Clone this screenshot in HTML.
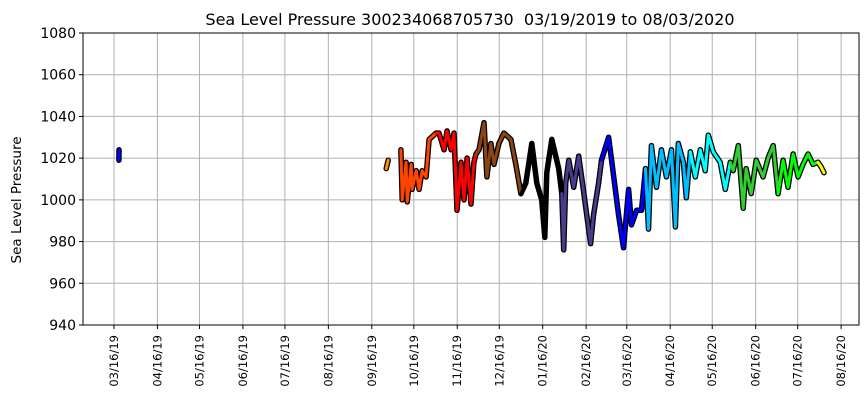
<!DOCTYPE html>
<html><head><meta charset="utf-8"><style>
html,body{margin:0;padding:0;background:#fff;}
svg{display:block;font-family:"DejaVu Sans","Liberation Sans",sans-serif;}
</style></head><body>
<svg id="chart" width="867" height="408" viewBox="0 0 867 408" xmlns="http://www.w3.org/2000/svg">
<text x="470" y="25" font-size="16" text-anchor="middle" fill="#000">Sea Level Pressure 300234068705730&#160; 03/19/2019 to 08/03/2020</text>
<text transform="translate(21,200) rotate(-90)" font-size="13.5" text-anchor="middle" fill="#000">Sea Level Pressure</text>
<g id="grid"></g>
<g id="yticks"></g>
<g id="xticks"></g>
<g id="series"></g>
<rect x="83" y="33" width="776" height="292" fill="none" stroke="#000" stroke-width="1"/>
</svg>
<script>
// Data: day offsets from 03/16/2019 and pressure values
const yTicks = [940, 960, 980, 1000, 1020, 1040, 1060, 1080];
const xTickDays = [0, 31, 61, 92, 122, 153, 184, 214, 245, 275, 306, 337, 366, 397, 427, 458, 488, 519];
const xTickLabels = ["03/16/19","04/16/19","05/16/19","06/16/19","07/16/19","08/16/19","09/16/19","10/16/19","11/16/19","12/16/19","01/16/20","02/16/20","03/16/20","04/16/20","05/16/20","06/16/20","07/16/20","08/16/20"];

const seg0Days = [3.5, 3.6];
const seg0Vals = [1019, 1024];
const seg1Days = [194.3, 195.7];
const seg1Vals = [1015, 1019];
const seg2Days = [204.8, 205.7, 208.5, 209.3, 212.1, 212.8, 215.7, 217.8, 219.9, 222.8, 224.9, 229.9];
const seg2Vals = [1024, 1000, 1018, 999, 1017, 1005, 1014, 1005, 1014, 1011, 1029, 1032];
const seg3Days = [229.9, 232, 235.6, 237.7, 240.6, 242.7, 244.8, 247.7, 249.8, 252, 254.8, 256.9, 258.4];
const seg3Vals = [1032, 1032, 1024, 1033, 1024, 1032, 995, 1018, 1000, 1020, 998, 1018, 1022];
const seg4Days = [258.4, 260.5, 264.1, 266.2, 269, 271.2, 274.7, 278.3, 283.3, 286.8, 290.4];
const seg4Vals = [1022, 1024, 1037, 1011, 1027, 1017, 1027, 1032, 1029, 1017, 1003];
const seg5Days = [290.4, 293.9, 298.2, 301.8, 305.3, 307.5, 308.9, 312.5, 317.4, 319.6];
const seg5Vals = [1003, 1008, 1027, 1008, 1000, 982, 1013, 1029, 1015, 1003];
const seg6Days = [319.6, 321, 322.4, 324.6, 328.1, 331.7, 335.2, 340.2, 342.3, 345.9, 348];
const seg6Vals = [1003, 976, 1008, 1019, 1006, 1021, 1004, 979, 993, 1008, 1019];
const seg7Days = [348, 353, 355.2, 360.1, 363.7, 367.3, 369.4, 373, 376.5, 379.4];
const seg7Vals = [1019, 1030, 1019, 993, 977, 1005, 988, 995, 995, 1015];
const seg8Days = [379.4, 381.5, 383.6, 387.2, 390.7, 394.3, 397.9, 400.7, 402.8, 406.4, 408.5, 411.4];
const seg8Vals = [1015, 986, 1026, 1006, 1024, 1011, 1024, 987, 1027, 1018, 1001, 1023];
const seg9Days = [411.4, 414.9, 418.5, 422, 424.2, 427.8, 432.7, 436.3, 439.9];
const seg9Vals = [1023, 1011, 1024, 1014, 1031, 1023, 1018, 1005, 1018];
const seg10Days = [439.9, 442, 445.6, 449.1, 451.2, 454.8, 458.4, 463.3, 466.9, 470.5, 474];
const seg10Vals = [1018, 1014, 1026, 996, 1015, 1003, 1019, 1011, 1020, 1026, 1003];
const seg11Days = [474, 477.6, 481.1, 484.7, 488.3, 491.8, 495.4, 498.9, 502.5];
const seg11Vals = [1003, 1019, 1006, 1022, 1011, 1017, 1022, 1017, 1018];
const seg12Days = [502.5, 504.6, 506.8];
const seg12Vals = [1018, 1016, 1013];
const segColors = ["#0000ff","#ff8c00","#ff4500","#ff0000","#8b4513","#000000","#483d8b","#0000ff","#00bfff","#00ffff","#32cd32","#00ff00","#ffff00"];
const segDays = [seg0Days,seg1Days,seg2Days,seg3Days,seg4Days,seg5Days,seg6Days,seg7Days,seg8Days,seg9Days,seg10Days,seg11Days,seg12Days];
const segVals = [seg0Vals,seg1Vals,seg2Vals,seg3Vals,seg4Vals,seg5Vals,seg6Vals,seg7Vals,seg8Vals,seg9Vals,seg10Vals,seg11Vals,seg12Vals];

const NS = "http://www.w3.org/2000/svg";
const X0 = 114, PXD = 1.401, YT = 33, YB = 325, VMIN = 940, VMAX = 1080;
function xScale(d){ return X0 + d * PXD; }
function yScale(v){ return YB - (v - VMIN) / (VMAX - VMIN) * (YB - YT); }
function mk(tag, attrs){ const e = document.createElementNS(NS, tag); for (const k in attrs) e.setAttribute(k, attrs[k]); return e; }

const grid = document.getElementById('grid');
const yg = document.getElementById('yticks');
const xg = document.getElementById('xticks');
const sg = document.getElementById('series');

yTicks.forEach(v => {
  const y = yScale(v);
  const gl = mk('line', {x1:83, x2:859, y1:y, y2:y, stroke:'#b0b0b0', 'stroke-width':1});
  
  
  grid.appendChild(gl);
  const tk = mk('line', {x1:79, x2:83, y1:y, y2:y, stroke:'#000'});
  
  
  yg.appendChild(tk);
  const t = mk('text', {x:76, y:y+5, 'font-size':14, 'text-anchor':'end', fill:'#000'});
  t.textContent = v;
  
  
  yg.appendChild(t);
});

xTickDays.forEach((d, i) => {
  const x = xScale(d);
  const gl = mk('line', {x1:x, x2:x, y1:33, y2:325, stroke:'#b0b0b0', 'stroke-width':1});
  
  
  grid.appendChild(gl);
  const tk = mk('line', {x1:x, x2:x, y1:325, y2:329, stroke:'#000'});
  
  
  xg.appendChild(tk);
  const t = mk('text', {transform:'translate(' + (x+4) + ',335) rotate(-90)', 'font-size':11.5, 'text-anchor':'end', fill:'#000'});
  t.textContent = xTickLabels[i];
  
  
  xg.appendChild(t);
});

segDays.forEach((days, i) => {
  const pts = days.map((d, j) => xScale(d).toFixed(1) + ',' + yScale(segVals[i][j]).toFixed(1)).join(' ');
  const outline = mk('polyline', {points:pts, fill:'none', stroke:'#000', 'stroke-width':5.5, 'stroke-linejoin':'round', 'stroke-linecap':'round'});
  
  
  sg.appendChild(outline);
});
segDays.forEach((days, i) => {
  const pts = days.map((d, j) => xScale(d).toFixed(1) + ',' + yScale(segVals[i][j]).toFixed(1)).join(' ');
  const line = mk('polyline', {points:pts, fill:'none', stroke:segColors[i], 'stroke-width':3, 'stroke-linejoin':'round', 'stroke-linecap':'round'});
  
  
  sg.appendChild(line);
});
</script>
</body></html>
